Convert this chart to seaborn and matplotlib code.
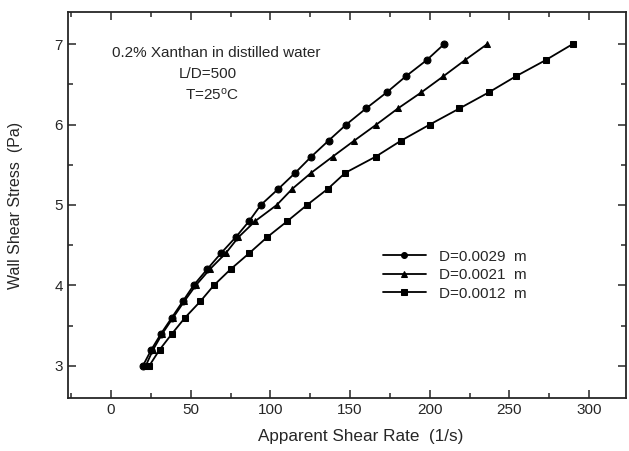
import numpy as np
import pandas as pd
import matplotlib
matplotlib.use("Agg")
import matplotlib.pyplot as plt
from matplotlib.ticker import MultipleLocator
import seaborn as sns

# wall shear stress levels (Pa)
stress = [3.0, 3.2, 3.4, 3.6, 3.8, 4.0, 4.2, 4.4, 4.6, 4.8, 5.0,
          5.2, 5.4, 5.6, 5.8, 6.0, 6.2, 6.4, 6.6, 6.8, 7.0]

# apparent shear rate (1/s) per tube diameter
rate_d29 = [20, 25.3, 31.4, 38.2, 45, 51.8, 60.3, 69, 78.3, 86.7, 94,
            105, 115.6, 125.6, 136.5, 147.6, 160, 173, 185, 198, 209]
rate_d21 = [21.8, 26.4, 32.2, 39, 45.9, 53.2, 62, 72, 80, 90.5, 104,
            113.7, 125.6, 139, 152.6, 166.5, 180, 194.7, 208.5, 222, 236]
rate_d12 = [24, 30.5, 38.3, 46.5, 56, 64.5, 75, 86.7, 98, 110.7, 123,
            136, 147, 166, 182, 200, 218.6, 237, 254, 272.6, 289.6]

labels = ["D=0.0029  m", "D=0.0021  m", "D=0.0012  m"]

df = pd.concat([
    pd.DataFrame({"rate": r, "stress": stress, "D": lab})
    for r, lab in zip([rate_d29, rate_d21, rate_d12], labels)
])

sns.set_style("ticks")
plt.rcParams['font.family'] = ['Liberation Sans', 'DejaVu Sans']
plt.rcParams['mathtext.default'] = 'regular'

fig = plt.figure(figsize=(6.29, 4.51), dpi=100)
ax = fig.add_axes([0.108, 0.1175, 0.887, 0.856])

sns.lineplot(data=df, x="rate", y="stress", hue="D", style="D",
             hue_order=labels, style_order=labels,
             palette=["black"] * 3,
             markers={labels[0]: "o", labels[1]: "^", labels[2]: "s"},
             dashes=False, markersize=5, markeredgecolor="black",
             linewidth=1.3, sort=False, ax=ax)

ax.set_xlim(-27, 323)
ax.set_ylim(2.6, 7.4)
ax.xaxis.set_major_locator(MultipleLocator(50))
ax.xaxis.set_minor_locator(MultipleLocator(25))
ax.yaxis.set_major_locator(MultipleLocator(1))
ax.yaxis.set_minor_locator(MultipleLocator(0.5))
ax.tick_params(which="both", direction="in", top=True, right=True,
               labelsize=11, width=1.1)
ax.tick_params(which="major", length=6)
ax.tick_params(which="minor", length=3.5)
for s in ax.spines.values():
    s.set_linewidth(1.3)

ax.set_xlabel("Apparent Shear Rate  (1/s)", fontsize=12.3, labelpad=9)
ax.xaxis.label.set_x(0.524)
ax.set_ylabel("Wall Shear Stress  (Pa)", fontsize=11.5, labelpad=23)

ax.text(0.265, 0.894, "0.2% Xanthan in distilled water", transform=ax.transAxes,
        ha="center", va="center", fontsize=11)
ax.text(0.250, 0.839, "L/D=500", transform=ax.transAxes,
        ha="center", va="center", fontsize=11)
ax.text(0.258, 0.785, "T=25$^{o}$C", transform=ax.transAxes,
        ha="center", va="center", fontsize=11)

ax.legend(frameon=False, loc="center left", bbox_to_anchor=(0.54, 0.318),
          fontsize=11, handlelength=2.8, handletextpad=0.9,
          labelspacing=0.3, markerscale=0.85)

fig.savefig("out.png", dpi=100)
